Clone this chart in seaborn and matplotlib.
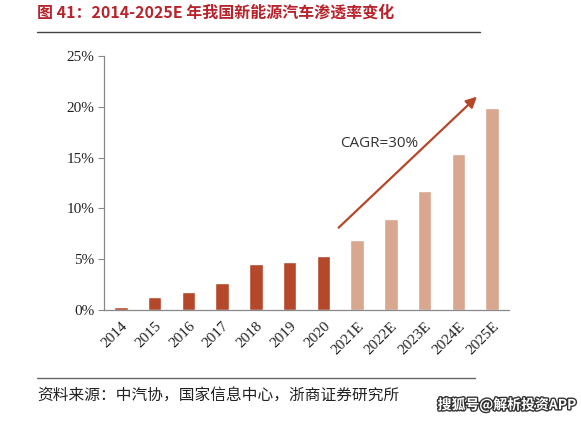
import matplotlib
matplotlib.use("Agg")
import matplotlib.pyplot as plt
import matplotlib.patheffects as pe
import seaborn as sns
import pandas as pd
from matplotlib.lines import Line2D

years = ["2014", "2015", "2016", "2017", "2018", "2019", "2020",
         "2021E", "2022E", "2023E", "2024E", "2025E"]
penetration = [0.25, 1.3, 1.75, 2.7, 4.5, 4.7, 5.35, 6.9, 9.0, 11.75, 15.35, 19.9]
kind = ["actual"] * 7 + ["forecast"] * 5
yticks = [0, 5, 10, 15, 20, 25]
ytick_labels = ["0%", "5%", "10%", "15%", "20%", "25%"]

title = "图 41：2014-2025E 年我国新能源汽车渗透率变化"
source = "资料来源：中汽协，国家信息中心，浙商证券研究所"
annot = "CAGR=30%"
watermark = "搜狐号@解析投资APP"

df = pd.DataFrame({"year": years, "value": penetration, "kind": kind})

sns.set_theme(style="white")
plt.rcParams["font.family"] = ["Noto Sans CJK SC", "DejaVu Sans"]

fig = plt.figure(figsize=(5.81, 4.23), dpi=100)
ax = fig.add_axes([104/581, 1-310/423, 405/581, 254/423])

palette = {"actual": "#B5472A", "forecast": "#D9A690"}
sns.barplot(data=df, x="year", y="value", hue="kind", palette=palette,
            dodge=False, width=0.4, legend=False, ax=ax, saturation=1)

ax.set_xlim(-0.5, len(years) - 0.5)
ax.set_ylim(0, 25)
ax.set_xlabel("")
ax.set_ylabel("")

for s in ["top", "right"]:
    ax.spines[s].set_visible(False)
for s in ["left", "bottom"]:
    ax.spines[s].set_color("#888888")
    ax.spines[s].set_linewidth(0.9)

ax.set_yticks(yticks)
ax.set_yticklabels(ytick_labels, family="Liberation Serif", fontsize=11, color="#222222")
ax.tick_params(axis="y", direction="out", length=4, width=0.8, color="#888888", pad=3, left=True)

ax.set_xticks(range(len(years)))
ax.set_xticklabels(years, rotation=45, ha="right", rotation_mode="anchor",
                   family="Liberation Serif", fontsize=11, color="#222222")
ax.tick_params(axis="x", length=0, pad=7, bottom=True)
ax.set_xticks([i - 0.5 for i in range(len(years) + 1)], minor=True)
ax.tick_params(axis="x", which="minor", direction="out", length=4, width=0.8, color="#888888")

# arrow and annotation
ax.annotate("", xy=(10.55, 21.0), xytext=(6.45, 8.1),
            arrowprops=dict(arrowstyle="-|>", color="#B5472A", lw=1.6,
                            mutation_scale=16, shrinkA=0, shrinkB=0))
ax.text(7.65, 16.4, annot, fontsize=11, color="#333333", family="Open Sans",
        ha="center", va="center")

# title, rules, source
fig.text(37/581, 1-13/423, title, fontsize=11.5, fontweight="bold",
         color="#B8232C", ha="left", va="center")
fig.add_artist(Line2D([37/581, 480/581], [1-32/423, 1-32/423],
                      color="#444444", lw=1.0))
fig.add_artist(Line2D([37/581, 475/581], [1-378/423, 1-378/423],
                      color="#666666", lw=1.0))
fig.text(37/581, 1-395/423, source, fontsize=11.3, color="#222222",
         ha="left", va="center")
wm = fig.text(576/581, 1-405/423, watermark, fontsize=10, color="white",
              ha="right", va="center", fontweight="bold")
wm.set_path_effects([pe.withStroke(linewidth=2, foreground="#333333")])

fig.savefig("out.png", dpi=100)
